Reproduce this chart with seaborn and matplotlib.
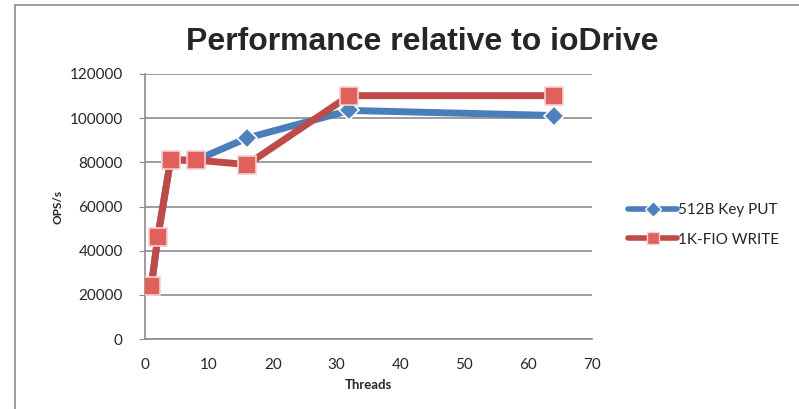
import numpy as np
import pandas as pd
import matplotlib
matplotlib.use("Agg")
import matplotlib.pyplot as plt
import seaborn as sns
from matplotlib.lines import Line2D

threads = [1, 2, 4, 8, 16, 32, 64]
key_put = [24000, 46000, 81000, 81000, 91000, 103500, 101200]
fio_write = [24200, 46300, 81000, 81000, 79000, 110200, 110200]
series_names = ["512B Key PUT", "1K-FIO WRITE"]

df = pd.DataFrame({
    "Threads": threads * 2,
    "OPS/s": key_put + fio_write,
    "series": [series_names[0]] * len(threads) + [series_names[1]] * len(threads),
})

sns.set_style("white")
plt.rcParams["font.family"] = ["Lato", "DejaVu Sans"]

blue_line = "#4A7EBB"
red_line = "#BE4B48"
blue_fill = "#4F81BD"
red_fill = "#E0605C"

fig = plt.figure(figsize=(7.99, 4.09), dpi=100)
ax = fig.add_axes([0.1815, 0.1711, 0.5594, 0.648])

# blue series first, red drawn on top
sns.lineplot(data=df[df.series == series_names[0]], x="Threads", y="OPS/s", ax=ax,
             color=blue_line, linewidth=5, marker="D", markersize=10,
             markerfacecolor=blue_fill, markeredgecolor="white", markeredgewidth=1.2,
             legend=False, zorder=3)
sns.lineplot(data=df[df.series == series_names[1]], x="Threads", y="OPS/s", ax=ax,
             color=red_line, linewidth=5, marker="s", markersize=13,
             markerfacecolor=red_fill, markeredgecolor="#F4D0CF", markeredgewidth=1.2,
             legend=False, zorder=4)

ax.set_xlim(0, 70)
ax.set_ylim(0, 120000)
ax.set_xticks(np.arange(0, 71, 10))
ax.set_yticks(np.arange(0, 120001, 20000))
ax.yaxis.grid(True, color="#8C8C8C", linewidth=1.2)
ax.set_axisbelow(True)

for side in ["top", "right"]:
    ax.spines[side].set_visible(False)
for side in ["left", "bottom"]:
    ax.spines[side].set_color("#8C8C8C")
    ax.spines[side].set_linewidth(1.2)

ax.tick_params(axis="y", left=True, length=4, color="#8C8C8C", pad=12, labelsize=11)
ax.tick_params(axis="x", bottom=False, pad=10, labelsize=11)

ax.set_xlabel("Threads", fontsize=9.5, fontweight="bold", labelpad=5)
ax.set_ylabel("OPS/s", fontsize=8.5, fontweight="bold", labelpad=4)

fig.text(0.528, 0.897, "Performance relative to ioDrive", ha="center", va="center",
         fontsize=23, fontweight="bold", family="Liberation Sans")

handles = [
    Line2D([], [], color=blue_line, linewidth=4, marker="D", markersize=8,
           markerfacecolor=blue_fill, markeredgecolor="white"),
    Line2D([], [], color=red_line, linewidth=4, marker="s", markersize=9,
           markerfacecolor=red_fill, markeredgecolor="#F4D0CF"),
]
ax.legend(handles, series_names, loc="center left", bbox_to_anchor=(1.05, 0.43),
          frameon=False, fontsize=11, handlelength=3.2, handletextpad=0.1,
          labelspacing=1.0)

# outer chart border (left and top, as in the reference crop)
fig.add_artist(Line2D([0.019, 0.019], [0, 0.988], color="#8C8C8C", linewidth=1.2,
                      transform=fig.transFigure))
fig.add_artist(Line2D([0.019, 1.0], [0.988, 0.988], color="#8C8C8C", linewidth=1.2,
                      transform=fig.transFigure))

fig.savefig("out.png", dpi=100)
